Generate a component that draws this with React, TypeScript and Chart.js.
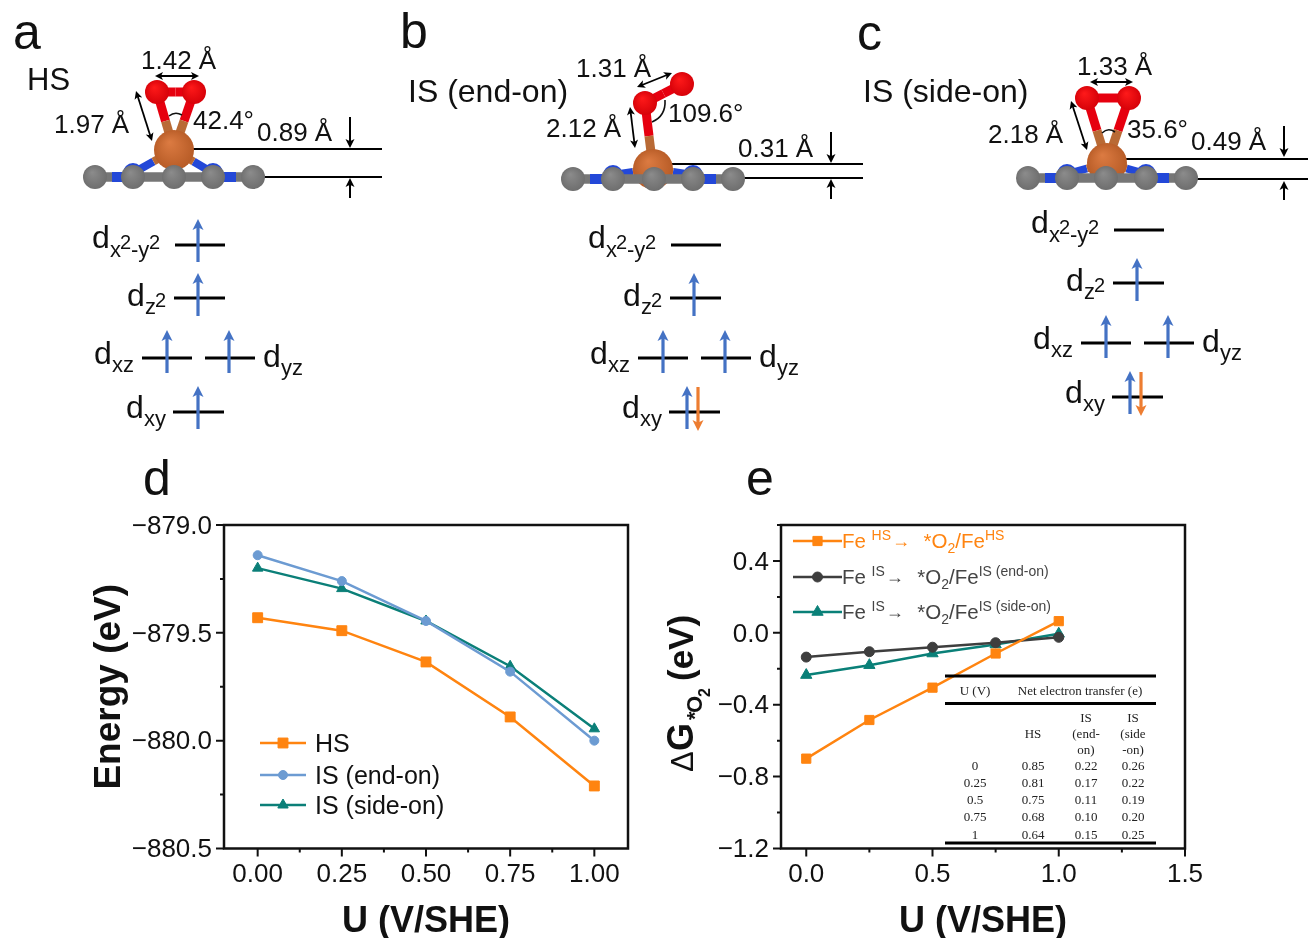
import React, { useEffect, useRef } from "react";
import { Chart, registerables } from "chart.js";
import { drawPoint } from "chart.js/helpers";

Chart.register(...registerables);

const SANS = '"Liberation Sans", Arial, sans-serif';
const SERIF = '"Liberation Serif", "Times New Roman", serif';

// ---- panel d data
const potentialsD = [0, 0.25, 0.5, 0.75, 1];
const energyHS = [-879.43, -879.49, -879.635, -879.89, -880.21];
const energyEndOn = [-879.14, -879.26, -879.445, -879.68, -880.0];
const energySideOn = [-879.2, -879.295, -879.445, -879.655, -879.945];

// ---- panel e data
const potentialsE = [0, 0.25, 0.5, 0.75, 1];
const dGHS = [-0.7, -0.485, -0.305, -0.115, 0.065];
const dGEndOn = [-0.135, -0.105, -0.08, -0.055, -0.025];
const dGSideOn = [-0.235, -0.18, -0.115, -0.065, -0.005];

// ---- inset table
const tableU = ["0", "0.25", "0.5", "0.75", "1"];
const tableHS = ["0.85", "0.81", "0.75", "0.68", "0.64"];
const tableEndOn = ["0.22", "0.17", "0.11", "0.10", "0.15"];
const tableSideOn = ["0.26", "0.22", "0.19", "0.20", "0.25"];

const ORANGE = "#FF8410";
const BLUE = "#6C9BD2";
const TEAL = "#0B7F78";
const DARK = "#3E3E3E";
const AXIS = "#111";

const toXY = (xs: number[], ys: number[]) => xs.map((x, i) => ({ x, y: ys[i] }));
const minus = (s: string) => s.replace("-", "\u2212");

function frameAndTicks(isMajorX: (v: number) => boolean, isMajorY: (v: number) => boolean) {
  return {
    id: "frameAndTicks",
    afterDraw(chart: any) {
      const { ctx, chartArea: a, scales } = chart;
      ctx.save();
      ctx.strokeStyle = AXIS;
      ctx.lineWidth = 2.5;
      ctx.strokeRect(a.left, a.top, a.right - a.left, a.bottom - a.top);
      ctx.lineWidth = 2;
      ctx.beginPath();
      for (const t of scales.x.ticks) {
        const p = scales.x.getPixelForValue(t.value);
        ctx.moveTo(p, a.bottom);
        ctx.lineTo(p, a.bottom + (isMajorX(t.value) ? 8 : 4));
      }
      for (const t of scales.y.ticks) {
        const p = scales.y.getPixelForValue(t.value);
        ctx.moveTo(a.left, p);
        ctx.lineTo(a.left - (isMajorY(t.value) ? 8 : 4), p);
      }
      ctx.stroke();
      ctx.restore();
    },
  };
}

function legendRow(ctx: any, ds: any, x0: number, x1: number, y: number) {
  ctx.save();
  ctx.strokeStyle = ds.borderColor;
  ctx.lineWidth = 2.5;
  ctx.beginPath();
  ctx.moveTo(x0, y);
  ctx.lineTo(x1, y);
  ctx.stroke();
  ctx.fillStyle = ds.borderColor;
  ctx.strokeStyle = ds.borderColor;
  ctx.lineWidth = 1;
  drawPoint(ctx, { pointStyle: ds.pointStyle, radius: ds.pointRadius, rotation: 0, borderWidth: 1 }, (x0 + x1) / 2, y);
  ctx.restore();
}

type Seg = [string, number, number, number?];
function flow(ctx: any, segs: Seg[], x: number, y: number) {
  let cx = x;
  for (const [text, size, dy, gap] of segs) {
    ctx.font = `${size}px ${SANS}`;
    ctx.fillText(text, cx, y + dy);
    cx += ctx.measureText(text).width + (gap || 0);
  }
}

const D_LEFT = 80;
const D_TOP = 500;
const E_LEFT = 650;
const E_TOP = 500;

const legendD = {
  id: "legendD",
  afterDatasetsDraw(chart: any) {
    const { ctx } = chart;
    const rows = [743, 775, 805];
    chart.data.datasets.forEach((ds: any, i: number) => {
      const y = rows[i] - D_TOP;
      legendRow(ctx, ds, 260 - D_LEFT, 306 - D_LEFT, y);
      ctx.save();
      ctx.fillStyle = "#111";
      ctx.font = `25px ${SANS}`;
      ctx.textBaseline = "alphabetic";
      ctx.fillText(ds.label, 315 - D_LEFT, y + 9);
      ctx.restore();
    });
  },
};

const legendE = {
  id: "legendE",
  afterDatasetsDraw(chart: any) {
    const { ctx } = chart;
    const rows = [541, 577, 612];
    const tail = ["HS", "IS (end-on)", "IS (side-on)"];
    const sup = ["HS", "IS", "IS"];
    chart.data.datasets.forEach((ds: any, i: number) => {
      const y = rows[i] - E_TOP;
      legendRow(ctx, ds, 793 - E_LEFT, 842 - E_LEFT, y);
      ctx.save();
      ctx.fillStyle = i === 0 ? ORANGE : "#444";
      flow(ctx, [
        ["Fe ", 20.5, 0, 0],
        [sup[i], 14, -8, 1],
        ["\u2192", 18, -1, 13.5],
        ["*O", 20.5, 0],
        ["2", 14, 5],
        ["/Fe", 20.5, 0],
        [tail[i], 14, -8],
      ], 842 - E_LEFT, y + 7);
      ctx.restore();
    });
  },
};

const yTitleE = {
  id: "yTitleE",
  afterDraw(chart: any) {
    const { ctx } = chart;
    const put = (s: string, font: string, along: number, across: number) => {
      ctx.font = font;
      ctx.fillText(s, along, across);
    };
    ctx.save();
    ctx.translate(693 - E_LEFT, 772 - E_TOP);
    ctx.rotate(-Math.PI / 2);
    ctx.fillStyle = "#111";
    put("\u0394", `31px ${SANS}`, 0, 0);
    put("G", `bold 36px ${SANS}`, 21, 0);
    put("*", `bold 22px ${SANS}`, 52, 9);
    put("O", `bold 22px ${SANS}`, 59, 9);
    put("2", `bold 16px ${SANS}`, 75, 17);
    put("(eV)", `bold 35px ${SANS}`, 91, 0);
    ctx.restore();
  },
};

const insetTable = {
  id: "insetTable",
  afterDatasetsDraw(chart: any) {
    const { ctx } = chart;
    const ox = E_LEFT, oy = E_TOP;
    ctx.save();
    ctx.strokeStyle = "#000";
    ctx.lineWidth = 3;
    ctx.beginPath();
    for (const y of [676, 703.5, 843]) {
      ctx.moveTo(945 - ox, y - oy);
      ctx.lineTo(1156 - ox, y - oy);
    }
    ctx.stroke();
    ctx.fillStyle = "#222";
    ctx.font = `13px ${SERIF}`;
    ctx.textAlign = "center";
    ctx.textBaseline = "middle";
    const put = (s: string, x: number, y: number) => ctx.fillText(s, x - ox, y - oy + 1);
    put("U (V)", 975, 691);
    put("Net electron transfer (e)", 1080, 691);
    put("HS", 1033, 734);
    ["IS", "(end-", "on)"].forEach((s, i) => put(s, 1086, 718 + i * 16));
    ["IS", "(side", "-on)"].forEach((s, i) => put(s, 1133, 718 + i * 16));
    const rowY = [766, 783, 800, 817, 835];
    rowY.forEach((y, i) => {
      put(tableU[i], 975, y);
      put(tableHS[i], 1033, y);
      put(tableEndOn[i], 1086, y);
      put(tableSideOn[i], 1133, y);
    });
    ctx.restore();
  },
};

function series(label: string, data: any[], color: string, pointStyle: string, pointRadius: number) {
  return {
    label, data, borderColor: color, backgroundColor: color, borderWidth: 2.5,
    pointStyle, pointRadius, pointBorderWidth: 1, tension: 0,
  };
}

const tickFont = { family: SANS, size: 26 };
const xTitleFont = { family: SANS, size: 36, weight: "bold" as const, lineHeight: 0.86 };
const yTitleFont = { family: SANS, size: 37, weight: "bold" as const, lineHeight: 0.9 };

function ChartD() {
  const ref = useRef<HTMLCanvasElement>(null);
  useEffect(() => {
    const chart = new Chart(ref.current!, {
      type: "line",
      data: {
        datasets: [
          series("HS", toXY(potentialsD, energyHS), ORANGE, "rect", 7),
          series("IS (end-on)", toXY(potentialsD, energyEndOn), BLUE, "circle", 4.5),
          series("IS (side-on)", toXY(potentialsD, energySideOn), TEAL, "triangle", 6),
        ] as any,
      },
      options: {
        animation: false, responsive: false, events: [],
        layout: { padding: { top: 525 - D_TOP, right: 650 - 628, left: 0, bottom: 0 } },
        plugins: { legend: { display: false }, tooltip: { enabled: false } },
        scales: {
          x: {
            type: "linear", min: -0.1, max: 1.1,
            afterFit: (s: any) => { s.height = 938 - 848.5; },
            grid: { display: false }, border: { display: false },
            ticks: {
              stepSize: 0.125, includeBounds: false, autoSkip: false, maxRotation: 0, padding: 3,
              color: "#111", font: tickFont,
              callback: (v: any) => (Math.abs(v / 0.25 - Math.round(v / 0.25)) < 1e-6 ? Number(v).toFixed(2) : ""),
            },
            title: { display: true, text: "U (V/SHE)", color: "#111", font: xTitleFont, padding: 0 },
          },
          y: {
            type: "linear", min: -880.5, max: -879,
            afterFit: (s: any) => { s.width = 224 - D_LEFT; },
            grid: { display: false }, border: { display: false },
            ticks: {
              stepSize: 0.25, includeBounds: false, autoSkip: false, padding: 4, labelOffset: 1.5,
              color: "#111", font: tickFont,
              callback: (v: any) => (Math.abs(v / 0.5 - Math.round(v / 0.5)) < 1e-6 ? minus(Number(v).toFixed(1)) : ""),
            },
            title: { display: true, text: "Energy (eV)", color: "#111", font: yTitleFont, padding: { top: 13, bottom: 0 } },
          },
        },
      } as any,
      plugins: [
        frameAndTicks((v) => Math.abs(v / 0.25 - Math.round(v / 0.25)) < 1e-6, (v) => Math.abs(v / 0.5 - Math.round(v / 0.5)) < 1e-6),
        legendD,
      ],
    });
    return () => chart.destroy();
  }, []);
  return <canvas ref={ref} width={650 - D_LEFT} height={938 - D_TOP} style={{ position: "absolute", left: D_LEFT, top: D_TOP }} />;
}

function ChartE() {
  const ref = useRef<HTMLCanvasElement>(null);
  useEffect(() => {
    const chart = new Chart(ref.current!, {
      type: "line",
      data: {
        datasets: [
          series("Fe HS", toXY(potentialsE, dGHS), ORANGE, "rect", 6.5),
          series("Fe IS end-on", toXY(potentialsE, dGEndOn), DARK, "circle", 5),
          series("Fe IS side-on", toXY(potentialsE, dGSideOn), "#0A8078", "triangle", 6.5),
        ] as any,
      },
      options: {
        animation: false, responsive: false, events: [],
        layout: { padding: { top: 525 - E_TOP, right: 1308 - 1185, left: 0, bottom: 0 } },
        plugins: { legend: { display: false }, tooltip: { enabled: false } },
        scales: {
          x: {
            type: "linear", min: -0.1, max: 1.5,
            afterFit: (s: any) => { s.height = 938 - 848.5; },
            grid: { display: false }, border: { display: false },
            ticks: {
              stepSize: 0.25, includeBounds: false, autoSkip: false, maxRotation: 0, padding: 3,
              color: "#111", font: tickFont,
              callback: (v: any) => (Math.abs(v / 0.5 - Math.round(v / 0.5)) < 1e-6 ? Number(v).toFixed(1) : ""),
            },
            title: { display: true, text: "U (V/SHE)", color: "#111", font: xTitleFont, padding: 0 },
          },
          y: {
            type: "linear", min: -1.2, max: 0.6,
            afterFit: (s: any) => { s.width = 781 - E_LEFT; },
            grid: { display: false }, border: { display: false },
            ticks: {
              stepSize: 0.2, includeBounds: false, autoSkip: false, padding: 4, labelOffset: 1.5,
              color: "#111", font: tickFont,
              callback: (v: any) => {
                const k = Math.round(v / 0.2);
                return k % 2 === 0 ? minus((k * 0.2 === 0 ? 0 : k * 0.2).toFixed(1)) : "";
              },
            },
          },
        },
      } as any,
      plugins: [
        frameAndTicks((v) => Math.abs(v / 0.5 - Math.round(v / 0.5)) < 1e-6, (v) => Math.round(v / 0.2) % 2 === 0),
        legendE, insetTable, yTitleE,
      ],
    });
    return () => chart.destroy();
  }, []);
  return <canvas ref={ref} width={1308 - E_LEFT} height={938 - E_TOP} style={{ position: "absolute", left: E_LEFT, top: E_TOP }} />;
}

// ---- schematic panels (a, b, c), drawn as SVG
function Arrow({ x1, y1, x2, y2, color = "#000", w = 2, head = 8, both = false }: any) {
  const L = Math.hypot(x2 - x1, y2 - y1), ux = (x2 - x1) / L, uy = (y2 - y1) / L;
  const hw = head * 0.5;
  const tip = (x: number, y: number, dx: number, dy: number) =>
    `${x},${y} ${x - dx * head - dy * hw},${y - dy * head + dx * hw} ${x - dx * head * 0.75},${y - dy * head * 0.75} ${x - dx * head + dy * hw},${y - dy * head - dx * hw}`;
  return (
    <g>
      <line x1={both ? x1 + ux * head * 0.6 : x1} y1={both ? y1 + uy * head * 0.6 : y1} x2={x2 - ux * head * 0.6} y2={y2 - uy * head * 0.6} stroke={color} strokeWidth={w} />
      <polygon points={tip(x2, y2, ux, uy)} fill={color} />
      {both && <polygon points={tip(x1, y1, -ux, -uy)} fill={color} />}
    </g>
  );
}

const T = ({ x, y, s = 26, children, fill = "#111" }: any) => (
  <text x={x} y={y} fontSize={s} fontFamily={SANS} fill={fill}>{children}</text>
);

function Bond({ a, b, c1, c2, w = 9 }: any) {
  const mx = (a[0] + b[0]) / 2, my = (a[1] + b[1]) / 2;
  return (
    <g strokeWidth={w}>
      <line x1={a[0]} y1={a[1]} x2={mx} y2={my} stroke={c1} />
      <line x1={mx} y1={my} x2={b[0]} y2={b[1]} stroke={c2} />
    </g>
  );
}

const Atom = ({ c, r, g }: any) => <circle cx={c[0]} cy={c[1]} r={r} fill={`url(#${g})`} />;

function Molecule({ xs, cy, fe, o1, o2, sideOn }: any) {
  const RED = "#E6000F", FE = "#B96A35", N = "#2348D8", GR = "#767676";
  const n1 = [xs[1], cy - 4], n2 = [xs[3], cy - 4];
  return (
    <g>
      <Bond a={o1} b={fe} c1={RED} c2={FE} />
      {sideOn && <Bond a={o2} b={fe} c1={RED} c2={FE} />}
      <Bond a={o1} b={o2} c1={RED} c2={RED} />
      <Atom c={o1} r={12} g="gO" />
      <Atom c={o2} r={12} g="gO" />
      <Bond a={n1} b={fe} c1={N} c2={FE} w={8} />
      <Bond a={n2} b={fe} c1={N} c2={FE} w={8} />
      <circle cx={n1[0]} cy={n1[1]} r={10} fill={N} />
      <circle cx={n2[0]} cy={n2[1]} r={10} fill={N} />
      <Atom c={fe} r={20} g="gFe" />
      <line x1={xs[0]} y1={cy} x2={xs[4]} y2={cy} stroke={GR} strokeWidth={9.5} />
      <line x1={xs[0] + 17} y1={cy} x2={xs[1] - 11} y2={cy} stroke={N} strokeWidth={10} />
      <line x1={xs[3] + 11} y1={cy} x2={xs[4] - 17} y2={cy} stroke={N} strokeWidth={10} />
      {xs.map((x: number) => <Atom key={x} c={[x, cy]} r={12} g="gC" />)}
    </g>
  );
}

function OrbitalLabel({ x, y, kind }: any) {
  const d = <T x={x} y={y} s={32}>d</T>;
  if (kind === "x2y2")
    return (
      <g>
        {d}
        <T x={x + 18} y={y + 9} s={22}>x</T>
        <T x={x + 28} y={y + 1} s={20}>2</T>
        <T x={x + 39} y={y + 9} s={22}>-y</T>
        <T x={x + 57} y={y + 1} s={20}>2</T>
      </g>
    );
  if (kind === "z2")
    return (
      <g>
        {d}
        <T x={x + 18} y={y + 8} s={22}>z</T>
        <T x={x + 28} y={y + 1} s={20}>2</T>
      </g>
    );
  return (
    <g>
      {d}
      <T x={x + 18} y={y + 8} s={22}>{kind}</T>
    </g>
  );
}

function Level({ x1, x2, y }: any) {
  return <line x1={x1} y1={y} x2={x2} y2={y} stroke="#000" strokeWidth={3} />;
}

const SPIN_BLUE = "#4472C4";
const SPIN_ORANGE = "#ED7D31";

const Up = ({ x, y }: any) => <Arrow x1={x} y1={y + 17} x2={x} y2={y - 26} color={SPIN_BLUE} w={3.2} head={11} />;
const Down = ({ x, y }: any) => <Arrow x1={x} y1={y - 25} x2={x} y2={y + 19} color={SPIN_ORANGE} w={3.2} head={11} />;

function Orbitals({ dx, dy, topFilled, paired }: any) {
  return (
    <g transform={`translate(${dx},${dy})`}>
      <OrbitalLabel x={92} y={248} kind="x2y2" />
      <Level x1={175} x2={225} y={245} />
      {topFilled && <Up x={198} y={245} />}
      <OrbitalLabel x={127} y={306} kind="z2" />
      <Level x1={174} x2={225} y={298} />
      <Up x={198} y={299} />
      <OrbitalLabel x={94} y={364} kind="xz" />
      <Level x1={142} x2={192} y={358} />
      <Up x={167} y={356} />
      <OrbitalLabel x={263} y={367} kind="yz" />
      <Level x1={205} x2={255} y={358} />
      <Up x={229} y={356} />
      <OrbitalLabel x={126} y={418} kind="xy" />
      <Level x1={173} x2={224} y={412} />
      {paired ? (<g><Up x={191} y={412} /><Down x={202} y={412} /></g>) : <Up x={198} y={412} />}
    </g>
  );
}

function Grad({ id, a, b }: any) {
  return (
    <radialGradient id={id} cx="0.5" cy="0.5" r="0.55" fx="0.38" fy="0.3">
      <stop offset="0" stopColor={a} />
      <stop offset="1" stopColor={b} />
    </radialGradient>
  );
}

function Schematic() {
  return (
    <svg width={1308} height={938} style={{ position: "absolute", left: 0, top: 0, pointerEvents: "none" }}>
      <defs>
        <Grad id="gO" a="#FF1A1A" b="#D40008" />
        <Grad id="gFe" a="#DC7B42" b="#B55A25" />
        <Grad id="gC" a="#8C8C8C" b="#6C6C6C" />
      </defs>

      {/* panel letters */}
      <T x={13} y={49} s={50}>a</T>
      <T x={400} y={48} s={50}>b</T>
      <T x={857} y={50} s={50}>c</T>
      <T x={143} y={495} s={50}>d</T>
      <T x={746} y={495} s={50}>e</T>

      {/* a */}
      <T x={27} y={90} s={31}>HS</T>
      <line x1={190} y1={149} x2={382} y2={149} stroke="#000" strokeWidth={2.2} />
      <line x1={260} y1={177} x2={382} y2={177} stroke="#000" strokeWidth={2.2} />
      <Molecule xs={[95, 133, 174, 213, 253]} cy={177} fe={[174, 150]} o1={[157, 92]} o2={[194, 92]} sideOn />
      <path d="M169 116 Q175 111 182 115" fill="none" stroke="#111" strokeWidth={1.6} />
      <Arrow x1={155} y1={76} x2={199} y2={76} both head={8} w={1.8} />
      <Arrow x1={136} y1={91} x2={152} y2={141} both head={8} w={1.8} />
      <Arrow x1={350} y1={117} x2={350} y2={148} head={9} w={2} />
      <Arrow x1={350} y1={198} x2={350} y2={178} head={9} w={2} />
      <T x={141} y={69}>1.42 Å</T>
      <T x={54} y={133}>1.97 Å</T>
      <T x={193} y={129}>42.4°</T>
      <T x={257} y={141}>0.89 Å</T>
      <Orbitals dx={0} dy={0} topFilled />

      {/* b */}
      <T x={408} y={102} s={32}>IS (end-on)</T>
      <line x1={670} y1={164} x2={863} y2={164} stroke="#000" strokeWidth={2.2} />
      <line x1={740} y1={178} x2={863} y2={178} stroke="#000" strokeWidth={2.2} />
      <Molecule xs={[573, 613, 654, 693, 733]} cy={179} fe={[653, 169]} o1={[645, 103]} o2={[682, 84]} />
      <path d="M665 100 Q666 116 652 122" fill="none" stroke="#111" strokeWidth={1.6} />
      <Arrow x1={637} y1={87} x2={672} y2={73} both head={8} w={1.8} />
      <Arrow x1={630} y1={107} x2={635} y2={148} both head={8} w={1.8} />
      <Arrow x1={831} y1={132} x2={831} y2={163} head={9} w={2} />
      <Arrow x1={831} y1={199} x2={831} y2={179} head={9} w={2} />
      <T x={576} y={77}>1.31 Å</T>
      <T x={546} y={137}>2.12 Å</T>
      <T x={668} y={122}>109.6°</T>
      <T x={738} y={157}>0.31 Å</T>
      <Orbitals dx={496} dy={0} paired />

      {/* c */}
      <T x={863} y={102} s={32}>IS (side-on)</T>
      <line x1={1124} y1={159} x2={1308} y2={159} stroke="#000" strokeWidth={2.2} />
      <line x1={1195} y1={179} x2={1308} y2={179} stroke="#000" strokeWidth={2.2} />
      <Molecule xs={[1028, 1067, 1106, 1146, 1186]} cy={178} fe={[1107, 163]} o1={[1087, 98]} o2={[1129, 98]} sideOn />
      <path d="M1102 133 Q1108 127 1115 132" fill="none" stroke="#111" strokeWidth={1.6} />
      <Arrow x1={1090} y1={82} x2={1133} y2={82} both head={8} w={1.8} />
      <Arrow x1={1071} y1={101} x2={1087} y2={150} both head={8} w={1.8} />
      <Arrow x1={1284} y1={126} x2={1284} y2={157} head={9} w={2} />
      <Arrow x1={1284} y1={200} x2={1284} y2={181} head={9} w={2} />
      <T x={1077} y={75}>1.33 Å</T>
      <T x={988} y={143}>2.18 Å</T>
      <T x={1127} y={138}>35.6°</T>
      <T x={1191} y={150}>0.49 Å</T>
      <Orbitals dx={939} dy={-15} paired />
    </svg>
  );
}

export default function App() {
  useEffect(() => {
    document.body.style.margin = "0";
    document.body.style.background = "#fff";
  }, []);
  return (
    <div style={{ position: "absolute", left: 0, top: 0, width: 1308, height: 938, overflow: "hidden", background: "#fff" }}>
      <ChartD />
      <ChartE />
      <Schematic />
    </div>
  );
}
